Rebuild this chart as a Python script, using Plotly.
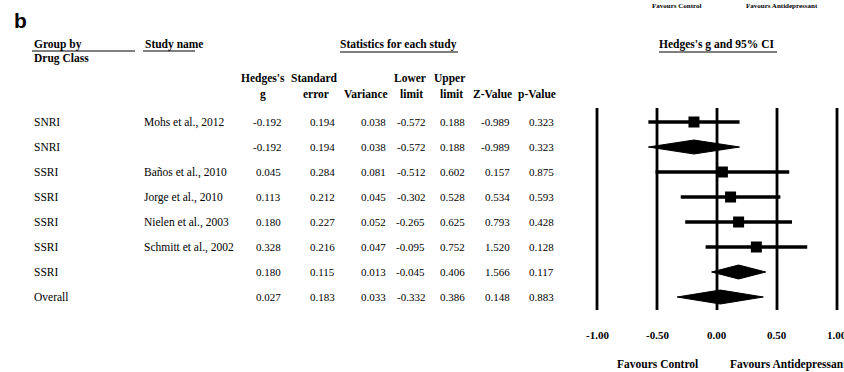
import plotly.graph_objects as go

# ---------------- data ----------------
groups = ["SNRI", "SNRI", "SSRI", "SSRI", "SSRI", "SSRI", "SSRI", "Overall"]
studies = ["Mohs et al., 2012", "", "Baños et al., 2010", "Jorge et al., 2010",
           "Nielen et al., 2003", "Schmitt et al., 2002", "", ""]
hedges_g = [-0.192, -0.192, 0.045, 0.113, 0.180, 0.328, 0.180, 0.027]
std_err = [0.194, 0.194, 0.284, 0.212, 0.227, 0.216, 0.115, 0.183]
variance = [0.038, 0.038, 0.081, 0.045, 0.052, 0.047, 0.013, 0.033]
lower = [-0.572, -0.572, -0.512, -0.302, -0.265, -0.095, -0.045, -0.332]
upper = [0.188, 0.188, 0.602, 0.528, 0.625, 0.752, 0.406, 0.386]
z_val = [-0.989, -0.989, 0.157, 0.534, 0.793, 1.520, 1.566, 0.148]
p_val = [0.323, 0.323, 0.875, 0.593, 0.428, 0.128, 0.117, 0.883]
is_summary = [False, True, False, False, False, False, True, True]
tick_vals = [-1.0, -0.5, 0.0, 0.5, 1.0]
tick_text = ["-1.00", "-0.50", "0.00", "0.50", "1.00"]

# ---------------- layout constants (pixels) ----------------
W, H = 844, 372
ROW0, ROWSTEP = 122, 25
X0PX, PXPERUNIT = 717, 120
SERIF = "Liberation Serif, Times New Roman, serif"

def xp(px):
    return px / W

fig = go.Figure()

row_y = [ROW0 + ROWSTEP * i for i in range(len(groups))]

# forest plot: reference lines
for tv in tick_vals:
    fig.add_shape(type="line", x0=tv, x1=tv, y0=108, y1=310, xref="x", yref="y",
                  line=dict(color="black", width=2.8))

# CI lines + squares / diamonds
for i in range(len(groups)):
    y = row_y[i]
    if is_summary[i]:
        h = 7
        fig.add_trace(go.Scatter(
            x=[lower[i], hedges_g[i], upper[i], hedges_g[i], lower[i]],
            y=[y, y - h, y, y + h, y],
            mode="lines", fill="toself", fillcolor="black",
            line=dict(color="black", width=1), hoverinfo="skip", showlegend=False))
    else:
        fig.add_trace(go.Scatter(
            x=[lower[i], upper[i]], y=[y, y], mode="lines",
            line=dict(color="black", width=3.5), hoverinfo="skip", showlegend=False))
        fig.add_trace(go.Scatter(
            x=[hedges_g[i]], y=[y], mode="markers",
            marker=dict(symbol="square", size=11, color="black"),
            hoverinfo="skip", showlegend=False))

ann = []

def txt(px, py, s, size=11.5, bold=False, anchor="left", family=SERIF):
    if bold:
        s = "<b>" + s + "</b>"
    ann.append(dict(x=xp(px), y=py, xref="paper", yref="y", text=s, showarrow=False,
                    xanchor=anchor, yanchor="middle",
                    font=dict(family=family, size=size, color="black")))

# table rows
col_right = [283, 337, 388, 427, 467, 512, 556]
for i in range(len(groups)):
    y = row_y[i]
    txt(32, y, groups[i])
    if studies[i]:
        txt(142, y, studies[i])
    vals = [hedges_g[i], std_err[i], variance[i], lower[i], upper[i], z_val[i], p_val[i]]
    for cx, v in zip(col_right, vals):
        txt(cx, y, "%.3f" % v, size=11, anchor="right")

# headers
txt(32, 44, "Group by", bold=True)
txt(32, 58, "Drug Class", bold=True)
txt(143, 44, "Study name", bold=True)
txt(398, 44, "Statistics for each study", bold=True, anchor="center")
txt(717, 44, "Hedges's g and 95% CI", bold=True, anchor="center")
txt(263, 78, "Hedges's", bold=True, anchor="center")
txt(263, 94, "g", bold=True, anchor="center")
txt(314, 78, "Standard", bold=True, anchor="center")
txt(316, 94, "error", bold=True, anchor="center")
txt(366, 94, "Variance", bold=True, anchor="center")
txt(410, 78, "Lower", bold=True, anchor="center")
txt(411, 94, "limit", bold=True, anchor="center")
txt(449, 78, "Upper", bold=True, anchor="center")
txt(451, 94, "limit", bold=True, anchor="center")
txt(493, 94, "Z-Value", bold=True, anchor="center")
txt(537, 94, "p-Value", bold=True, anchor="center")

# underlines
for x0, x1, yy in [(32, 135, 51), (143, 195, 51), (340, 458, 52), (659, 777, 52)]:
    fig.add_shape(type="line", x0=xp(x0), x1=xp(x1), y0=yy, y1=yy, xref="paper", yref="y",
                  line=dict(color="black", width=1))

# panel label
txt(12, 20, "b", size=21, bold=True, family="Liberation Sans")

# top small favours
txt(677, 6, "Favours Control", size=7, bold=True, anchor="center")
txt(782, 6, "Favours Antidepressant", size=7, bold=True, anchor="center")

# axis tick labels (at data positions)
for tv, tt in zip(tick_vals, tick_text):
    ann.append(dict(x=tv, y=335, xref="x", yref="y", text="<b>" + tt + "</b>",
                    showarrow=False, xanchor="center", yanchor="middle",
                    font=dict(family=SERIF, size=11, color="black")))

txt(657, 364, "Favours Control", bold=True, anchor="center")
txt(788, 364, "Favours Antidepressant", bold=True, anchor="center")

xmin = (0 - X0PX) / PXPERUNIT
xmax = (W - X0PX) / PXPERUNIT
fig.update_layout(
    width=W, height=H, autosize=False,
    margin=dict(l=0, r=0, t=0, b=0),
    paper_bgcolor="white", plot_bgcolor="white",
    xaxis=dict(range=[xmin, xmax], visible=False, fixedrange=True),
    yaxis=dict(range=[H, 0], visible=False, fixedrange=True),
    annotations=ann, showlegend=False,
)

fig.write_html("out.html")
